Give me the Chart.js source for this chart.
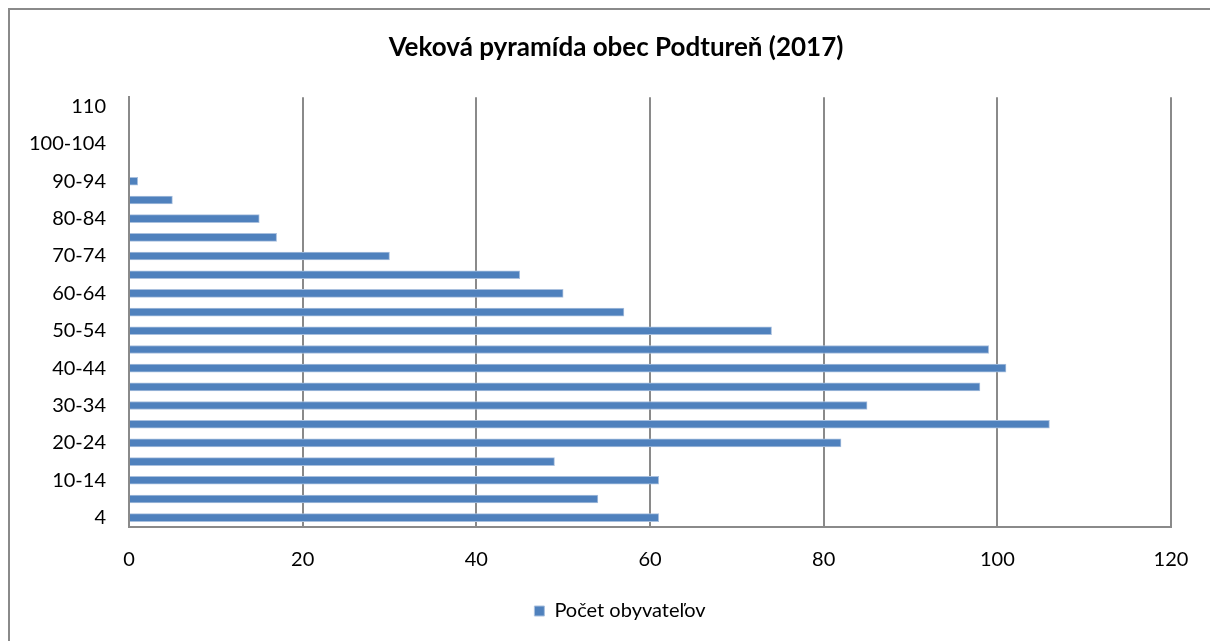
<!DOCTYPE html>
<html>
<head>
<meta charset="utf-8">
<script src="https://cdn.jsdelivr.net/npm/chart.js@4"></script>
<style>
  html, body { margin: 0; padding: 0; background: #fff; overflow: hidden; }
  #wrap { position: relative; width: 1210px; height: 641px; overflow: hidden; }
  #frame { position: absolute; left: 8px; top: 8px; width: 1240px; height: 670px; border: 2px solid #8a8a8a; box-sizing: border-box; }
  canvas { position: absolute; left: 0; top: 0; }
</style>
</head>
<body>
<div id="wrap">
  <div id="frame"></div>
  <canvas id="pyramid-chart" width="1210" height="641"></canvas>
</div>
<script>
// Age groups, bottom to top
const ageGroups = ['4', '5-9', '10-14', '15-19', '20-24', '25-29', '30-34', '35-39', '40-44',
    '45-49', '50-54', '55-59', '60-64', '65-69', '70-74', '75-79', '80-84', '85-89',
    '90-94', '95-99', '100-104', '105-109', '110'];
const population = [61, 54, 61, 49, 82, 106, 85, 98, 101, 99, 74, 57, 50, 45, 30, 17, 15, 5, 1, 0, 0, 0, 0];
const xTicks = [0, 20, 40, 60, 80, 100, 120];

const seriesLabel = 'Počet obyvateľov';
const chartTitle = 'Veková pyramída obec Podtureň (2017)';

const gridColor = '#8a8a8a';
const fontFamily = 'Lato, "Open Sans", sans-serif';

// the original chart is wider than the visible crop, so title and legend sit a bit right of the page centre
const shiftBoxes = {
    id: 'shiftBoxes',
    afterLayout(chart) {
        if (chart.titleBlock) { chart.titleBlock.left = 22; chart.titleBlock.right = 1210; }
        if (chart.legend) { chart.legend.left = 30; chart.legend.right = 1210; }
    }
};

const ctx = document.getElementById('pyramid-chart');

new Chart(ctx, {
    type: 'bar',
    data: {
        labels: ageGroups,
        datasets: [{
            label: seriesLabel,
            data: population,
            backgroundColor: '#4F81BD',
            borderColor: '#a9c0de',
            borderWidth: 1,
            barThickness: 8
        }]
    },
    options: {
        indexAxis: 'y',
        responsive: false,
        animation: false,
        layout: {
            padding: { left: 20, right: 39, top: 10, bottom: 10 }
        },
        scales: {
            x: {
                min: 0,
                max: 120,
                afterBuildTicks: scale => {
                    scale.ticks = xTicks.map(v => ({ value: v }));
                },
                afterFit: scale => { scale.height = 65; },
                grid: { color: gridColor, lineWidth: 2, drawTicks: false },
                border: { color: gridColor, width: 2 },
                ticks: {
                    padding: 21,
                    color: '#000',
                    font: { family: fontFamily, size: 20 }
                }
            },
            y: {
                reverse: true,
                afterFit: scale => { scale.width = 109; },
                grid: { display: false, drawTicks: false },
                border: { color: gridColor, width: 2 },
                ticks: {
                    autoSkip: false,
                    padding: 23,
                    color: '#000',
                    font: { family: fontFamily, size: 20 },
                    callback: function (value, index) {
                        return index % 2 === 0 ? this.getLabelForValue(value) : '';
                    }
                }
            }
        },
        plugins: {
            title: {
                display: true,
                text: chartTitle,
                color: '#000',
                font: { family: fontFamily, size: 26, weight: 'bold' },
                padding: { top: 22, bottom: 34 }
            },
            legend: {
                position: 'bottom',
                labels: {
                    boxWidth: 10,
                    boxHeight: 10,
                    padding: 9,
                    color: '#000',
                    font: { family: fontFamily, size: 20 }
                }
            },
            tooltip: { enabled: false }
        }
    },
    plugins: [shiftBoxes]
});
</script>
</body>
</html>
